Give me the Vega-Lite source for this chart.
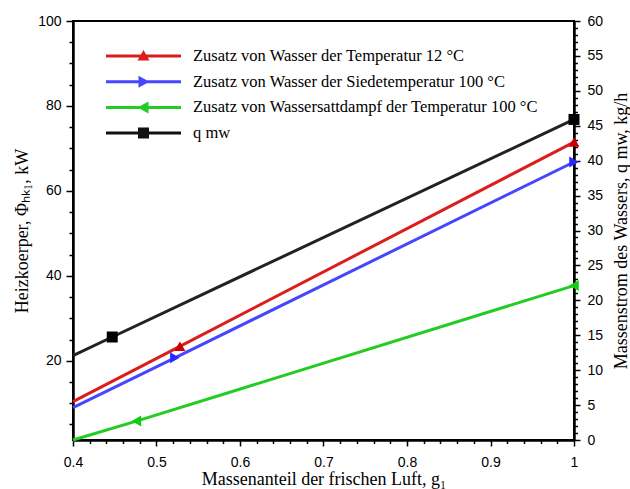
{
  "$schema": "https://vega.github.io/schema/vega-lite/v6.json",
  "width": 501,
  "height": 419,
  "autosize": {"type": "none"},
  "padding": {"left": 73, "top": 21, "right": 56, "bottom": 49},
  "background": "white",
  "config": {
    "view": {"stroke": "black", "strokeWidth": 2},
    "axis": {
      "labelFont": "Liberation Sans",
      "labelFontSize": 14,
      "labelColor": "black",
      "titleFont": "Liberation Serif",
      "titleFontSize": 18,
      "titleFontWeight": "normal",
      "titleColor": "black",
      "domainColor": "black",
      "domainWidth": 2.5,
      "tickColor": "black",
      "tickWidth": 1.5,
      "grid": false,
      "zindex": 1,
      "labelFlush": false,
      "labelOverlap": false
    }
  },
  "datasets": {
    "rows": [
      {"g": 0.4, "value": 10.4, "series": "Zusatz von Wasser der Temperatur 12 °C", "marker": false},
      {"g": 0.528, "value": 23.4, "series": "Zusatz von Wasser der Temperatur 12 °C", "marker": true},
      {"g": 1.0, "value": 71.5, "series": "Zusatz von Wasser der Temperatur 12 °C", "marker": true},
      {"g": 0.4, "value": 8.97, "series": "Zusatz von Wasser der Siedetemperatur 100 °C", "marker": false},
      {"g": 0.522, "value": 20.7, "series": "Zusatz von Wasser der Siedetemperatur 100 °C", "marker": true},
      {"g": 1.0, "value": 66.8, "series": "Zusatz von Wasser der Siedetemperatur 100 °C", "marker": true},
      {"g": 0.4, "value": 1.35, "series": "Zusatz von Wassersattdampf der Temperatur 100 °C", "marker": false},
      {"g": 0.476, "value": 5.8, "series": "Zusatz von Wassersattdampf der Temperatur 100 °C", "marker": true},
      {"g": 1.0, "value": 37.7, "series": "Zusatz von Wassersattdampf der Temperatur 100 °C", "marker": true},
      {"g": 0.4, "value": 12.07, "series": "q mw", "marker": false},
      {"g": 0.447, "value": 14.75, "series": "q mw", "marker": true},
      {"g": 1.0, "value": 45.9, "series": "q mw", "marker": true}
    ]
  },
  "data": {"name": "rows"},
  "encoding": {
    "x": {
      "field": "g",
      "type": "quantitative",
      "scale": {"domain": [0.4, 1.0], "nice": false, "zero": false},
      "axis": {
        "title": "Massenanteil der frischen Luft, g₁",
        "values": [0.4, 0.42, 0.44, 0.46, 0.48, 0.5, 0.52, 0.54, 0.56, 0.58, 0.6, 0.62, 0.64, 0.66, 0.68, 0.7, 0.72, 0.74, 0.76, 0.78, 0.8, 0.82, 0.84, 0.86, 0.88, 0.9, 0.92, 0.94, 0.96, 0.98, 1.0],
        "labelExpr": "abs(datum.value*10 - round(datum.value*10)) < 0.001 ? format(datum.value, '~g') : ''",
        "tickSize": {"condition": {"test": "abs(datum.value*10 - round(datum.value*10)) < 0.001", "value": 6}, "value": 3.5},
        "labelPadding": 9,
        "titlePadding": 1
      }
    }
  },
  "layer": [
    {
      "encoding": {
        "y": {
          "field": "value",
          "type": "quantitative",
          "scale": {"domain": [1.35, 100], "nice": false, "zero": false},
          "axis": {
            "title": "Heizkoerper, Φₕₖ₁, kW",
            "values": [5, 10, 15, 20, 25, 30, 35, 40, 45, 50, 55, 60, 65, 70, 75, 80, 85, 90, 95, 100],
            "labelExpr": "datum.value % 20 === 0 ? datum.value : ''",
            "tickSize": {"condition": {"test": "datum.value % 20 === 0", "value": 7}, "value": 4},
            "labelPadding": 5,
            "titlePadding": 6
          }
        }
      },
      "layer": [
        {
          "transform": [{"filter": "datum.series === 'Zusatz von Wasser der Temperatur 12 °C'"}],
          "mark": {"type": "line", "strokeWidth": 3, "color": "#dd1c1c"}
        },
        {
          "transform": [{"filter": "datum.series === 'Zusatz von Wasser der Siedetemperatur 100 °C'"}],
          "mark": {"type": "line", "strokeWidth": 3, "color": "#4646ff"}
        },
        {
          "transform": [{"filter": "datum.series === 'Zusatz von Wassersattdampf der Temperatur 100 °C'"}],
          "mark": {"type": "line", "strokeWidth": 3, "color": "#22cc22"}
        },
        {
          "transform": [{"filter": "datum.series === 'Zusatz von Wasser der Temperatur 12 °C' && datum.marker"}],
          "mark": {"type": "point", "shape": "triangle-up", "filled": true, "opacity": 1, "size": 120, "color": "#cc0000"}
        },
        {
          "transform": [{"filter": "datum.series === 'Zusatz von Wasser der Siedetemperatur 100 °C' && datum.marker"}],
          "mark": {"type": "point", "shape": "triangle-right", "filled": true, "opacity": 1, "size": 120, "color": "#2a2aff"}
        },
        {
          "transform": [{"filter": "datum.series === 'Zusatz von Wassersattdampf der Temperatur 100 °C' && datum.marker"}],
          "mark": {"type": "point", "shape": "triangle-left", "filled": true, "opacity": 1, "size": 120, "color": "#11cc11"}
        },
        {
          "mark": {"type": "point", "filled": true, "opacity": 0, "size": 400},
          "encoding": {
            "color": {
              "field": "series",
              "type": "nominal",
              "scale": {
                "domain": ["Zusatz von Wasser der Temperatur 12 °C", "Zusatz von Wasser der Siedetemperatur 100 °C", "Zusatz von Wassersattdampf der Temperatur 100 °C", "q mw"],
                "range": ["#dd1c1c", "#4646ff", "#22cc22", "#111111"]
              },
              "legend": {
                "title": null,
                "orient": "none",
                "legendX": 60.5,
                "legendY": 25,
                "padding": 0,
                "labelFont": "Liberation Serif",
                "labelFontSize": 16.5,
                "labelColor": "black",
                "labelOffset": 39.5,
                "labelLimit": 500,
                "symbolSize": 400,
                "symbolStrokeWidth": 0,
                "rowPadding": 6.7,
                "encode": {"symbols": {"update": {"opacity": {"value": 1}, "fillOpacity": {"value": 1}}}}
              }
            },
            "shape": {
              "field": "series",
              "type": "nominal",
              "scale": {
                "domain": ["Zusatz von Wasser der Temperatur 12 °C", "Zusatz von Wasser der Siedetemperatur 100 °C", "Zusatz von Wassersattdampf der Temperatur 100 °C", "q mw"],
                "range": [
                  "M-3.75,-0.15H3.75V0.15H-3.75Z M-0.6,0.45L0,-0.6L0.6,0.45Z",
                  "M-3.75,-0.15H3.75V0.15H-3.75Z M-0.5,-0.6L0.6,0L-0.5,0.6Z",
                  "M-3.75,-0.15H3.75V0.15H-3.75Z M0.5,-0.6L0.5,0.6L-0.6,0Z",
                  "M-3.75,-0.15H3.75V0.15H-3.75Z M-0.55,-0.55H0.55V0.55H-0.55Z"
                ]
              },
              "legend": {
                "title": null,
                "orient": "none",
                "legendX": 60.5,
                "legendY": 25,
                "padding": 0,
                "labelFont": "Liberation Serif",
                "labelFontSize": 16.5,
                "labelColor": "black",
                "labelOffset": 39.5,
                "labelLimit": 500,
                "symbolSize": 400,
                "symbolStrokeWidth": 0,
                "rowPadding": 6.7,
                "encode": {"symbols": {"update": {"opacity": {"value": 1}, "fillOpacity": {"value": 1}}}}
              }
            }
          }
        }
      ]
    },
    {
      "transform": [{"filter": "datum.series === 'q mw'"}],
      "encoding": {
        "y": {
          "field": "value",
          "type": "quantitative",
          "scale": {"domain": [0, 60], "nice": false, "zero": false},
          "axis": {
            "orient": "right",
            "title": "Massenstrom des Wassers, q mw, kg/h",
            "titleAngle": 270,
            "titleBaseline": "top",
            "values": [0, 1, 2, 3, 4, 5, 6, 7, 8, 9, 10, 11, 12, 13, 14, 15, 16, 17, 18, 19, 20, 21, 22, 23, 24, 25, 26, 27, 28, 29, 30, 31, 32, 33, 34, 35, 36, 37, 38, 39, 40, 41, 42, 43, 44, 45, 46, 47, 48, 49, 50, 51, 52, 53, 54, 55, 56, 57, 58, 59, 60],
            "labelExpr": "datum.value % 5 === 0 ? datum.value : ''",
            "tickSize": {"condition": {"test": "datum.value % 5 === 0", "value": 6}, "value": 3.5},
            "labelPadding": 7,
            "titlePadding": 10
          }
        }
      },
      "layer": [
        {"mark": {"type": "line", "strokeWidth": 3, "color": "#222222"}},
        {
          "transform": [{"filter": "datum.marker"}],
          "mark": {"type": "point", "shape": "square", "filled": true, "opacity": 1, "size": 121, "color": "#000000"}
        }
      ]
    }
  ],
  "resolve": {"scale": {"y": "independent"}}
}
